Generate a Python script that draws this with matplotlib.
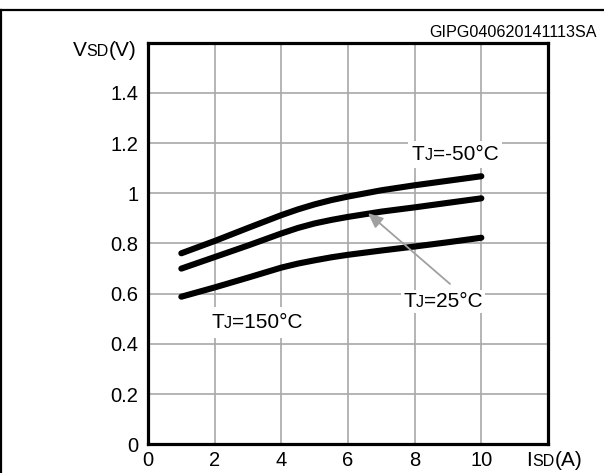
import matplotlib
matplotlib.use('Agg')
import matplotlib.pyplot as plt
from matplotlib.lines import Line2D
from matplotlib.offsetbox import TextArea, HPacker, AnnotationBbox

plt.rcParams['font.family'] = ['Liberation Sans', 'DejaVu Sans']

# values
isd = [1, 2, 3, 4, 4.5, 5, 5.5, 6, 7, 8, 9, 10]
vsd_m50 = [0.761, 0.810, 0.862, 0.913, 0.936, 0.956, 0.973, 0.987, 1.012, 1.032, 1.050, 1.068]
vsd_25 = [0.700, 0.746, 0.792, 0.840, 0.862, 0.880, 0.894, 0.906, 0.927, 0.944, 0.962, 0.980]
vsd_150 = [0.588, 0.625, 0.664, 0.704, 0.720, 0.733, 0.745, 0.755, 0.772, 0.788, 0.805, 0.823]

xticks = [0, 2, 4, 6, 8, 10]
yticks = [0, 0.2, 0.4, 0.6, 0.8, 1.0, 1.2, 1.4]
ytick_labels = ['0', '0.2', '0.4', '0.6', '0.8', '1', '1.2', '1.4']

FS = 15
FS_SMALL = 11.5
FS_TICK = 14.5


def rich_label(ax, xy, parts, xycoords='data', bg=True, pad=0.3):
    """text with small-caps style subscripts, baseline aligned"""
    areas = [TextArea(s, textprops=dict(fontsize=fs, color='black')) for s, fs in parts]
    pack = HPacker(children=areas, align='baseline', pad=0, sep=0)
    ab = AnnotationBbox(pack, xy, xycoords=xycoords, frameon=bg,
                        box_alignment=(0.5, 0.5), pad=pad,
                        bboxprops=dict(facecolor='white', edgecolor='none'))
    ab.set_zorder(3)
    ax.add_artist(ab)
    return ab


fig = plt.figure(figsize=(6.04, 4.73), dpi=100)
ax = fig.add_axes([148 / 604, 1 - 444.3 / 473, 400 / 604, 401.6 / 473])

for y in [vsd_m50, vsd_25, vsd_150]:
    ax.plot(isd, y, color='black', lw=4.4, solid_capstyle='round',
            solid_joinstyle='round', zorder=4)

ax.set_xlim(0, 12)
ax.set_ylim(0, 1.6)
ax.set_xticks(xticks)
ax.set_yticks(yticks)
ax.set_yticklabels(ytick_labels)
ax.tick_params(length=0, labelsize=FS_TICK)
ax.tick_params(axis='x', pad=5)
ax.tick_params(axis='y', pad=7)
ax.grid(True, color='#a8a8a8', lw=1.2, zorder=1)
ax.set_axisbelow(True)
for sp in ax.spines.values():
    sp.set_linewidth(2.3)

# curve labels
rich_label(ax, (9.21, 1.155), [('T', FS), ('J', FS_SMALL), ('=-50°C', FS)], pad=0.3)
rich_label(ax, (8.85, 0.57), [('T', FS), ('J', FS_SMALL), ('=25°C', FS)], pad=0.15)
rich_label(ax, (3.26, 0.485), [('T', FS), ('J', FS_SMALL), ('=150°C', FS)], pad=0.45)

# arrow pointing to the 25C curve
ax.annotate('', xy=(6.6, 0.921), xytext=(9.06, 0.639),
            arrowprops=dict(arrowstyle='-|>,head_length=0.9,head_width=0.4',
                            color='#a0a0a0', lw=1.3, shrinkA=0, shrinkB=0),
            zorder=5)

# axis titles
rich_label(ax, (104.5 / 604, 1 - 51 / 473), [('V', FS), ('SD', FS_SMALL), ('(V)', FS)],
           xycoords='figure fraction', bg=False, pad=0)
rich_label(ax, (554.5 / 604, 1 - 460 / 473), [('I', FS), ('SD', FS_SMALL), ('(A)', FS)],
           xycoords='figure fraction', bg=False, pad=0)

fig.text(597 / 604, 1 - 36.7 / 473, 'GIPG040620141113SA', fontsize=11.6,
         ha='right', va='baseline')

# outer frame (top and left only)
fig.add_artist(Line2D([0, 1], [1 - 10.5 / 473] * 2, color='black', lw=1.6,
                      transform=fig.transFigure))
fig.add_artist(Line2D([1.2 / 604] * 2, [0, 1 - 10.5 / 473], color='black', lw=1.6,
                      transform=fig.transFigure))

fig.savefig('out.png', dpi=100)
